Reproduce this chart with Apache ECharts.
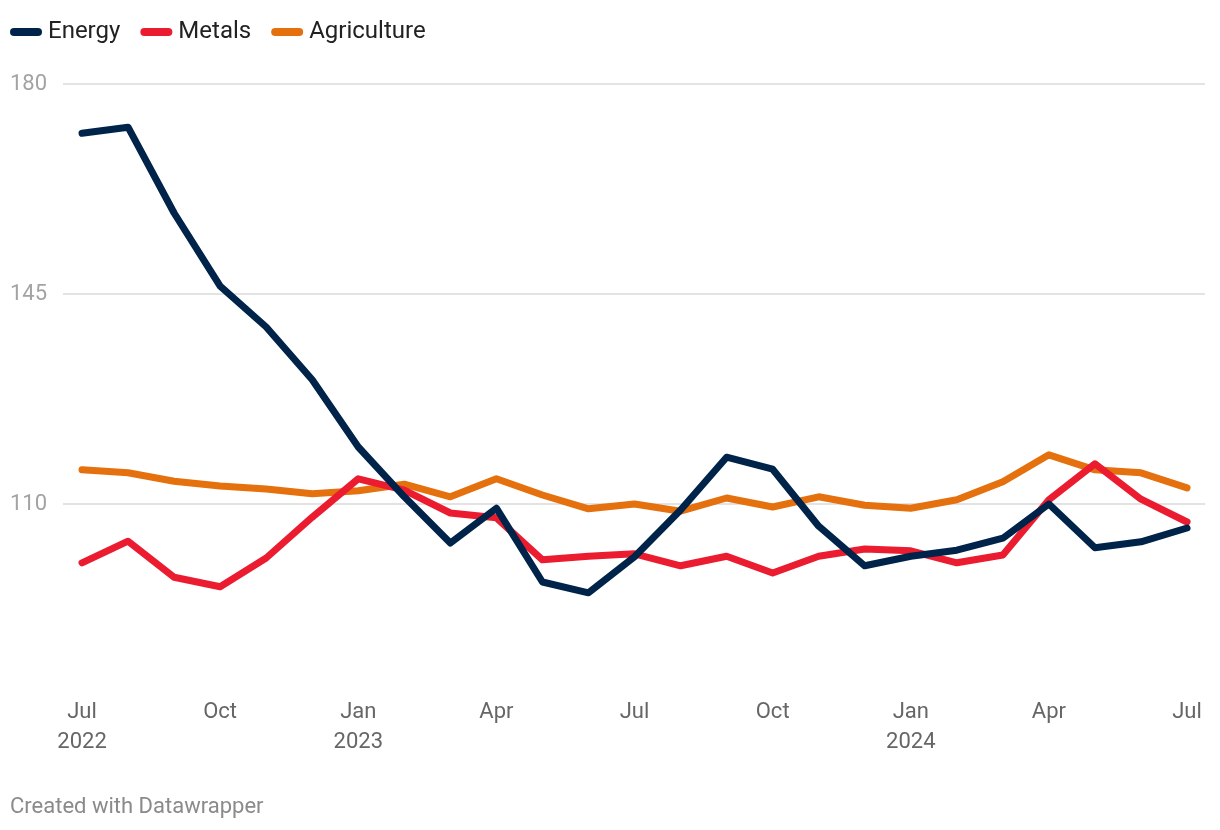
<!DOCTYPE html>
<html>
<head>
<meta charset="utf-8">
<script src="https://cdn.jsdelivr.net/npm/echarts@6/dist/echarts.min.js"></script>
<style>
html,body{margin:0;padding:0;background:#fff;}
#chart{width:1220px;height:830px;}
</style>
</head>
<body>
<div id="chart"></div>
<script>
const months = ['Jul 2022','Aug 2022','Sep 2022','Oct 2022','Nov 2022','Dec 2022','Jan 2023','Feb 2023','Mar 2023','Apr 2023','May 2023','Jun 2023','Jul 2023','Aug 2023','Sep 2023','Oct 2023','Nov 2023','Dec 2023','Jan 2024','Feb 2024','Mar 2024','Apr 2024','May 2024','Jun 2024','Jul 2024'];
const energy = [171.8,172.8,158.5,146.3,139.5,130.7,119.5,111.2,103.5,109.3,97.0,95.2,101.2,109.0,117.8,115.8,106.3,99.7,101.3,102.3,104.3,110.0,102.7,103.7,106.0];
const metals = [100.2,103.8,97.8,96.2,101.0,107.8,114.2,112.3,108.5,107.7,100.7,101.3,101.7,99.7,101.3,98.5,101.3,102.5,102.2,100.2,101.5,110.7,116.7,110.8,107.0];
const agriculture = [115.7,115.2,113.8,113.0,112.5,111.7,112.2,113.3,111.2,114.2,111.5,109.2,110.0,108.8,111.0,109.5,111.2,109.8,109.3,110.7,113.7,118.2,115.7,115.2,112.7];
const xTickPositions = [0,3,6,9,12,15,18,21,24];
const xTickLabels = ['Jul\n2022','Oct','Jan\n2023','Apr','Jul','Oct','Jan\n2024','Apr','Jul'];
const yTicks = [110,145,180];

const toPairs = arr => arr.map((v,i)=>[i,v]);
const pill = 'path://M4,0 H28 A4,4 0 0 1 28,8 H4 A4,4 0 0 1 4,0 Z';

const chart = echarts.init(document.getElementById('chart'), null, {renderer:'canvas'});
chart.setOption({
  animation:false,
  backgroundColor:'#fff',
  textStyle:{fontFamily:'Roboto'},
  legend:{
    left:5, top:15, itemGap:20, itemWidth:32, itemHeight:9,
    textStyle:{fontFamily:'Roboto', fontSize:24, color:'#222', padding:[0,0,0,1]},
    data:[{name:'Energy',icon:pill},{name:'Metals',icon:pill},{name:'Agriculture',icon:pill}]
  },
  graphic:[{
    type:'text', left:10, top:796,
    style:{text:'Created with Datawrapper', fontFamily:'Roboto', fontSize:22, fill:'#8a8a8a'}
  }],
  grid:{left:63, right:15, top:84, bottom:116, containLabel:false},
  xAxis:{
    type:'value', min:-0.413, max:24.39,
    offset:-25,
    axisLine:{show:false}, axisTick:{show:false}, splitLine:{show:false},
    axisLabel:{
      customValues:xTickPositions, margin:8,
      fontFamily:'Roboto', fontSize:22, color:'#666', lineHeight:30,
      formatter:(v)=>{const k=xTickPositions.indexOf(Math.round(v)); return k>=0?xTickLabels[k]:'';}
    }
  },
  yAxis:{
    type:'value', min:75, max:180, interval:35,
    axisLine:{show:false}, axisTick:{show:false},
    splitLine:{show:true, lineStyle:{color:['rgba(0,0,0,0)','#e3e3e3','#e3e3e3','#e3e3e3'], width:2}},
    axisLabel:{
      showMinLabel:false, align:'left', margin:53,
      fontFamily:'Roboto', fontSize:22, color:'#a3a3a3',
      formatter:(v)=> yTicks.indexOf(v)>=0 ? String(v) : ''
    }
  },
  series:[
    {name:'Energy', type:'line', data:toPairs(energy), showSymbol:false, symbol:'none', z:4,
     lineStyle:{width:7, color:'#00234a', cap:'round', join:'round'}, itemStyle:{color:'#00234a'}},
    {name:'Metals', type:'line', data:toPairs(metals), showSymbol:false, symbol:'none', z:3,
     lineStyle:{width:7, color:'#eb1c2f', cap:'round', join:'round'}, itemStyle:{color:'#eb1c2f'}},
    {name:'Agriculture', type:'line', data:toPairs(agriculture), showSymbol:false, symbol:'none', z:2,
     lineStyle:{width:7, color:'#e5700e', cap:'round', join:'round'}, itemStyle:{color:'#e5700e'}}
  ]
});
</script>
</body>
</html>
